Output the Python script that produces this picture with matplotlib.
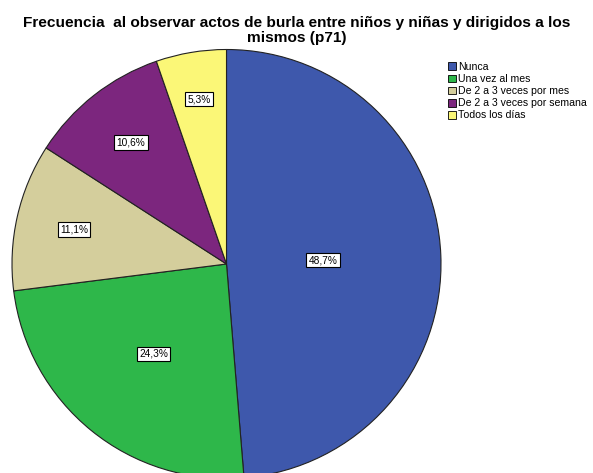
import numpy as np
import matplotlib
matplotlib.use("Agg")
import matplotlib.pyplot as plt
from matplotlib.patches import Patch

categories = ["Nunca", "Una vez al mes", "De 2 a 3 veces por mes",
              "De 2 a 3 veces por semana", "Todos los días"]
percents = [48.7, 24.3, 11.1, 10.6, 5.3]
colors = ["#3e58ac", "#2eb74a", "#d4ce9c", "#7c267e", "#fbf777"]
label_dist = [0.45, 0.54, 0.73, 0.72, 0.78]

title = "Frecuencia  al observar actos de burla entre niños y niñas y dirigidos a los\nmismos (p71)"

plt.rcParams["font.family"] = ["Liberation Sans", "DejaVu Sans"]

W, H = 593, 473
fig = plt.figure(figsize=(W / 100, H / 100), dpi=100)

# pie centre at (226.5, 264) px, radius 214.5 px
cx, cy, r = 226.5, 264, 214.5
ax = fig.add_axes([(cx - r) / W, (H - cy - r) / H, 2 * r / W, 2 * r / H])
wedges, _ = ax.pie(percents, colors=colors, startangle=90, counterclock=False,
                   radius=1, wedgeprops=dict(edgecolor="#222222", linewidth=0.8))
ax.set_xlim(-1, 1)
ax.set_ylim(-1, 1)
ax.set_aspect("equal")
ax.axis("off")

# percentage labels in boxes
start = 90.0
for p, d in zip(percents, label_dist):
    mid = start - p * 3.6 / 2
    start -= p * 3.6
    x = d * np.cos(np.radians(mid))
    y = d * np.sin(np.radians(mid))
    ax.text(x, y, ("%.1f%%" % p).replace(".", ","), ha="center", va="center",
            fontsize=7.3,
            bbox=dict(boxstyle="square,pad=0.22", fc="white", ec="black", lw=0.8))

fig.text(297 / W, 1 - 16 / H, title, ha="center", va="top", fontsize=11.1,
         fontweight="bold", linespacing=1.05)

handles = [Patch(facecolor=c, edgecolor="black", linewidth=0.6) for c in colors]
fig.legend(handles, categories, loc="upper left", bbox_to_anchor=(448 / W, 1 - 62 / H),
           frameon=False, fontsize=7.6, handlelength=0.75, handleheight=0.75,
           handletextpad=0.2, labelspacing=0.2, borderpad=0, borderaxespad=0)

fig.savefig("out.png", dpi=100)
